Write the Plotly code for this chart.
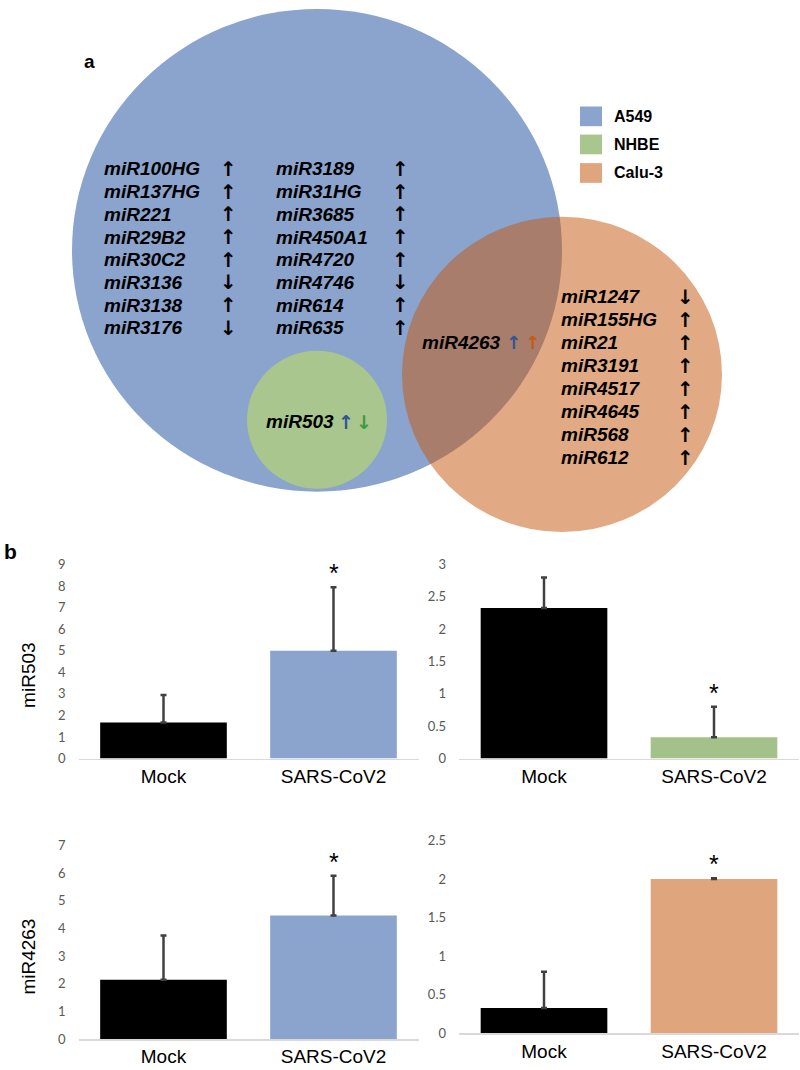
import plotly.graph_objects as go

W, H = 800, 1070

# ---------------- data: Venn diagram (panel a) ----------------
set_names = ["A549", "NHBE", "Calu-3"]
a549_col1 = ["miR100HG", "miR137HG", "miR221", "miR29B2", "miR30C2", "miR3136", "miR3138", "miR3176"]
a549_col1_dir = ["↑", "↑", "↑", "↑", "↑", "↓", "↑", "↓"]
a549_col2 = ["miR3189", "miR31HG", "miR3685", "miR450A1", "miR4720", "miR4746", "miR614", "miR635"]
a549_col2_dir = ["↑", "↑", "↑", "↑", "↑", "↓", "↑", "↑"]
calu3_only = ["miR1247", "miR155HG", "miR21", "miR3191", "miR4517", "miR4645", "miR568", "miR612"]
calu3_dir = ["↓", "↑", "↑", "↑", "↑", "↑", "↑", "↑"]
a549_nhbe = "miR503"
a549_nhbe_dir = ["↑", "↓"]
a549_calu3 = "miR4263"
a549_calu3_dir = ["↑", "↑"]

# ---------------- data: bar charts (panel b) ----------------
groups = ["Mock", "SARS-CoV2"]
mir503_a549 = [1.67, 5.0]
mir503_a549_sd = [1.28, 2.95]
mir503_nhbe = [2.33, 0.33]
mir503_nhbe_sd = [0.47, 0.47]
mir4263_a549 = [2.15, 4.47]
mir4263_a549_sd = [1.6, 1.43]
mir4263_calu3 = [0.33, 2.0]
mir4263_calu3_sd = [0.47, 0.01]
significant = [False, True]

# ---------------- styles ----------------
C_BLUE = "#8AA4CD"
C_GREEN = "#A8C68E"
C_ORANGE_T = "rgba(197,86,10,0.5)"
C_ORANGE = "#DFA57C"
C_GREEN_BAR = "#A3C28A"
C_BLUE_BAR = "#8AA4CD"
ARROW_COLORS = {"blue": "#2F5597", "green": "#3E9A45", "orange": "#C55A11"}
NAME_FONT = dict(family="Liberation Sans, Arial", size=19, color="black", weight="bold", style="italic")
ARROW_FONT = dict(family="DejaVu Sans", size=20, color="black", weight="bold")


def px(x):
    return x / W


def py(y):
    return 1 - y / H


fig = go.Figure()
shapes = []
annotations = []


def circle(cx, cy, r, color):
    shapes.append(dict(type="circle", xref="paper", yref="paper",
                       x0=px(cx - r), x1=px(cx + r), y0=py(cy + r), y1=py(cy - r),
                       fillcolor=color, line=dict(width=0), layer="below"))


circle(317, 246, 245, C_BLUE)
circle(317, 418, 70, C_GREEN)
circle(562, 372, 160, C_ORANGE_T)


def text(x, y, s, font, xanchor="left"):
    annotations.append(dict(x=px(x), y=py(y), xref="paper", yref="paper", text=s,
                            showarrow=False, xanchor=xanchor, yanchor="middle",
                            font=font, borderpad=0))


row0, dy = 163.3, 23.07
for i, (n, d) in enumerate(zip(a549_col1, a549_col1_dir)):
    text(103, row0 + i * dy, n, NAME_FONT)
    text(228.5, row0 + i * dy, d, ARROW_FONT, "center")
for i, (n, d) in enumerate(zip(a549_col2, a549_col2_dir)):
    text(275, row0 + i * dy, n, NAME_FONT)
    text(400, row0 + i * dy, d, ARROW_FONT, "center")
row0c, dyc = 293.3, 23.3
for i, (n, d) in enumerate(zip(calu3_only, calu3_dir)):
    text(560, row0c + i * dyc, n, NAME_FONT)
    text(685, row0c + i * dyc, d, ARROW_FONT, "center")

text(421, 340, a549_calu3, NAME_FONT)
text(513, 340, a549_calu3_dir[0], dict(ARROW_FONT, color=ARROW_COLORS["blue"], size=18), "center")
text(532, 340, a549_calu3_dir[1], dict(ARROW_FONT, color=ARROW_COLORS["orange"], size=18), "center")

text(265, 420, a549_nhbe, NAME_FONT)
text(346, 420, a549_nhbe_dir[0], dict(ARROW_FONT, color=ARROW_COLORS["blue"], size=19), "center")
text(364, 420, a549_nhbe_dir[1], dict(ARROW_FONT, color=ARROW_COLORS["green"], size=19), "center")

# legend
for (name, col, yc) in zip(set_names, [C_BLUE, C_GREEN, C_ORANGE], [110, 138.5, 167.5]):
    shapes.append(dict(type="rect", xref="paper", yref="paper",
                       x0=px(580), x1=px(602), y0=py(yc + 10), y1=py(yc - 10),
                       fillcolor=col, line=dict(width=0)))
    text(613, yc, name, dict(family="Liberation Sans, Arial", size=16, color="black", weight="bold"))

# panel labels
text(89, 54, "a", dict(family="Liberation Sans, Arial", size=19, color="black", weight="bold"), "center")
text(10, 552, "b", dict(family="Liberation Sans, Arial", size=21, color="black", weight="bold"), "center")

# ---------------- bar charts ----------------
panels = [
    dict(vals=mir503_a549, sd=mir503_a549_sd, col=C_BLUE_BAR, xd=(78.5, 418.5), yd=(762, 565), rng=9, dt=1),
    dict(vals=mir503_nhbe, sd=mir503_nhbe_sd, col=C_GREEN_BAR, xd=(459, 799), yd=(762, 565), rng=3, dt=0.5),
    dict(vals=mir4263_a549, sd=mir4263_a549_sd, col=C_BLUE_BAR, xd=(78.5, 418.5), yd=(1047, 850), rng=7, dt=1),
    dict(vals=mir4263_calu3, sd=mir4263_calu3_sd, col=C_ORANGE, xd=(459, 799), yd=(1041, 845), rng=2.5, dt=0.5),
]

for k, p in enumerate(panels, start=1):
    xa = "x" if k == 1 else f"x{k}"
    ya = "y" if k == 1 else f"y{k}"
    fig.add_trace(go.Bar(
        x=groups, y=p["vals"], xaxis=xa, yaxis=ya,
        marker=dict(color=["black", p["col"]], line=dict(width=0)),
        width=0.745,
        error_y=dict(type="data", symmetric=False, array=p["sd"], arrayminus=[0, 0],
                     color="#404040", thickness=2.5, width=3),
        showlegend=False, hoverinfo="skip"))
    sfx = "" if k == 1 else str(k)
    fig.layout["xaxis" + sfx] = dict(
        domain=[px(p["xd"][0]), px(p["xd"][1])], anchor=ya,
        showline=True, linecolor="#D9D9D9", linewidth=1.3, ticks="", showgrid=False,
        zeroline=False, tickfont=dict(family="Liberation Sans, Arial", size=19, color="black"),
        ticklabelstandoff=0, fixedrange=True)
    fig.layout["yaxis" + sfx] = dict(
        domain=[py(p["yd"][0]), py(p["yd"][1])], anchor=xa,
        range=[0, p["rng"]], dtick=p["dt"], tick0=0, showgrid=False, zeroline=False,
        showline=False, ticks="", tickfont=dict(family="Lato, Open Sans", size=13, color="#595959"),
        ticklabelstandoff=12, fixedrange=True)
    for g, v, s, sig in zip(groups, p["vals"], p["sd"], significant):
        if sig:
            annotations.append(dict(x=g, y=v + s, xref=xa, yref=ya, text="*", showarrow=False,
                                    xanchor="center", yanchor="bottom", yshift=-2,
                                    font=dict(family="Liberation Sans, Arial", size=25, color="black")))

# y-axis titles
for label, yc in [("miR503", 677), ("miR4263", 963)]:
    annotations.append(dict(x=px(29), y=py(yc), xref="paper", yref="paper", text=label, textangle=-90,
                            xanchor="center", yanchor="middle", showarrow=False,
                            font=dict(family="Liberation Sans, Arial", size=19, color="black")))

fig.update_layout(width=W, height=H, margin=dict(l=0, r=0, t=0, b=0),
                  paper_bgcolor="white", plot_bgcolor="rgba(0,0,0,0)",
                  shapes=shapes, annotations=annotations, bargap=0.25)

fig.write_html("out.html", config={"displayModeBar": False, "staticPlot": True},
               post_script="document.body.style.margin='0px';document.body.style.padding='0px';"
                           "document.documentElement.style.overflow='hidden';")
